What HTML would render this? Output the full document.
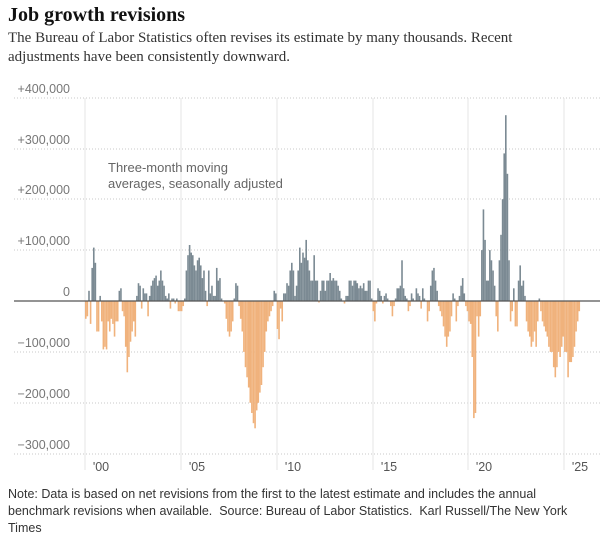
<!DOCTYPE html>
<html><head><meta charset="utf-8"><style>
body{margin:0;width:600px;height:534px;background:#fff;overflow:hidden;font-family:"Liberation Sans",sans-serif}
.t{position:absolute;left:8px;top:4px;font:bold 20px "Liberation Serif",serif;color:#111}
.s{position:absolute;left:8px;top:29px;width:545px;font:15px/19px "Liberation Serif",serif;color:#333}
.f{position:absolute;left:8px;top:486px;width:590px;font:12.5px/17px "Liberation Sans",sans-serif;color:#333}
svg{position:absolute;left:0;top:0}
</style></head><body>
<div class="t">Job growth revisions</div>
<div class="s">The Bureau of Labor Statistics often revises its estimate by many thousands. Recent adjustments have been consistently downward.</div>
<svg width="600" height="534" id="c"></svg>
<div class="f">Note: Data is based on net revisions from the first to the latest estimate and includes the annual benchmark revisions when available.&nbsp; Source: Bureau of Labor Statistics.&nbsp; Karl Russell/The New York Times</div>
<script>
var d=[
-35,-30,20,-45,65,105,75,-60,-60,10,-40,-95,
-90,-95,-40,-60,-35,-45,-70,-40,-40,20,25,-20,
-30,-90,-140,-110,-80,-60,-40,-70,10,35,30,-15,
25,15,15,-30,10,30,40,45,50,30,40,60,
40,30,10,5,15,-15,5,5,-5,5,-20,-20,
-20,-10,5,60,90,110,95,90,70,60,80,85,
70,45,60,20,-10,60,15,30,10,10,65,40,
45,5,0,-5,-35,-60,-70,-60,-40,5,35,30,
-10,-35,-60,-100,-130,-150,-170,-200,-220,-240,-250,-215,
-200,-180,-165,-130,-100,-60,-40,-30,-20,-10,20,15,
-55,-75,-15,-40,15,15,35,30,60,75,60,10,
30,60,105,75,95,85,120,80,60,40,40,90,
40,40,-3,20,40,40,20,40,40,55,40,45,
40,40,30,20,5,0,-5,10,10,40,40,30,
40,40,35,25,30,25,35,20,20,40,40,5,
-20,-40,-5,25,20,10,-5,10,15,5,0,-10,
-30,-10,5,25,25,30,80,25,10,5,-20,-10,
15,5,0,25,15,10,-15,25,5,0,-40,-20,
30,60,65,40,20,-10,-20,-30,-50,-70,-90,-70,
-60,-30,15,5,-40,-10,10,30,45,15,-10,-20,
-40,-45,-110,-230,-220,-30,-70,-30,100,180,120,40,
40,100,80,60,30,-30,-60,80,130,200,290,365,
250,80,-40,-20,25,-50,-50,40,70,30,40,10,
-40,-60,-70,-90,-80,-60,-90,-40,5,-20,-40,-50,
-60,-70,-90,-100,-100,-130,-150,-130,-100,-110,-90,-70,
-100,-100,-150,-120,-120,-110,-90,-60,-40,-20];
var s='',z=301,k=0.509;
[['+400,000',98],['+300,000',149],['+200,000',199],['+100,000',250],['0',301],['\u2212100,000',352],['\u2212200,000',403],['\u2212300,000',454]].forEach(function(g){
s+='<line x1="14" x2="600" y1="'+g[1]+'" y2="'+g[1]+'" stroke="#c8c8c8" stroke-dasharray="1,2"/>';
s+='<text x="70" y="'+(g[1]-5)+'" text-anchor="end" font-size="12.5" fill="#777">'+g[0]+'</text>';});
[['\'00',85],['\'05',181],['\'10',277],['\'15',373],['\'20',468],['\'25',564]].forEach(function(v){
s+='<line x1="'+v[1]+'" x2="'+v[1]+'" y1="98" y2="470" stroke="#e6e6e6"/>';
s+='<text x="'+(v[1]+16)+'" y="471" text-anchor="middle" font-size="12.5" fill="#555">'+v[0]+'</text>';});
d.forEach(function(v,i){var x=85+i*1.597,h=Math.abs(v)*k;
s+='<rect x="'+x.toFixed(2)+'" y="'+(v>0?z-h:z).toFixed(1)+'" width="1.6" height="'+h.toFixed(1)+'" fill="'+(v>0?'#7b8a93':'#f0b27c')+'"/>';});
s+='<line x1="14" x2="600" y1="301" y2="301" stroke="#555" stroke-width="1.2"/>';
s+='<text x="108" y="172" font-size="13" fill="#666">Three-month moving</text><text x="108" y="188" font-size="13" fill="#666">averages, seasonally adjusted</text>';
document.getElementById('c').innerHTML=s;
</script>
</body></html>
